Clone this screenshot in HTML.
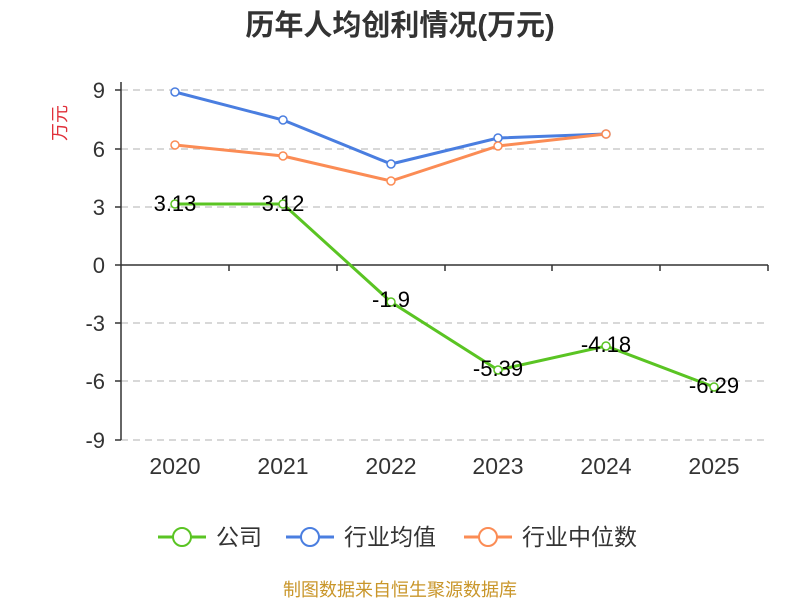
<!DOCTYPE html>
<html><head><meta charset="utf-8"><style>
body{margin:0;background:#fff;}
svg text{font-family:"Liberation Sans","Noto Sans CJK SC",sans-serif;}
</style></head><body>
<svg width="800" height="600" viewBox="0 0 800 600" xmlns="http://www.w3.org/2000/svg">
<text x="400" y="35" text-anchor="middle" font-size="29" font-weight="bold" fill="#333">历年人均创利情况(万元)</text>
<text x="66" y="123" font-size="18" fill="#e0303a" transform="rotate(-90 66 123)" text-anchor="middle">万元</text>
<g stroke="#ccc" stroke-width="1.5" stroke-dasharray="7,5">
<line x1="121" y1="90" x2="768" y2="90"/><line x1="121" y1="149" x2="768" y2="149"/>
<line x1="121" y1="207" x2="768" y2="207"/><line x1="121" y1="323" x2="768" y2="323"/>
<line x1="121" y1="381" x2="768" y2="381"/><line x1="121" y1="440" x2="768" y2="440"/>
</g>
<g stroke="#333" stroke-width="1.5">
<line x1="121" y1="82" x2="121" y2="440"/>
<line x1="121" y1="265" x2="768" y2="265"/>
<line x1="115" y1="90" x2="121" y2="90"/><line x1="115" y1="149" x2="121" y2="149"/>
<line x1="115" y1="207" x2="121" y2="207"/><line x1="115" y1="265" x2="121" y2="265"/>
<line x1="115" y1="323" x2="121" y2="323"/><line x1="115" y1="381" x2="121" y2="381"/>
<line x1="115" y1="440" x2="121" y2="440"/>
<line x1="229" y1="265" x2="229" y2="271"/><line x1="337" y1="265" x2="337" y2="271"/>
<line x1="445" y1="265" x2="445" y2="271"/><line x1="552" y1="265" x2="552" y2="271"/>
<line x1="660" y1="265" x2="660" y2="271"/><line x1="768" y1="265" x2="768" y2="271"/>
</g>
<g font-size="22" fill="#333" text-anchor="end">
<text x="105" y="98">9</text><text x="105" y="157">6</text><text x="105" y="215">3</text>
<text x="105" y="273">0</text><text x="105" y="331">-3</text><text x="105" y="389">-6</text><text x="105" y="448">-9</text>
</g>
<g font-size="23" fill="#333" text-anchor="middle">
<text x="175" y="474">2020</text><text x="283" y="474">2021</text><text x="391" y="474">2022</text>
<text x="498" y="474">2023</text><text x="606" y="474">2024</text><text x="714" y="474">2025</text>
</g>
<polyline fill="none" stroke="#4a7ee0" stroke-width="3" points="175,92 283,120 391,164 498,138 606,134"/>
<polyline fill="none" stroke="#fb8c55" stroke-width="3" points="175,145 283,156 391,181 498,146 606,134"/>
<polyline fill="none" stroke="#5ac423" stroke-width="3" points="175,204 283,204 391,302 498,370 606,346 714,387"/>
<g fill="#fff" stroke-width="1.5">
<g stroke="#4a7ee0"><circle cx="175" cy="92" r="4"/><circle cx="283" cy="120" r="4"/><circle cx="391" cy="164" r="4"/><circle cx="498" cy="138" r="4"/><circle cx="606" cy="134" r="4"/></g>
<g stroke="#fb8c55"><circle cx="175" cy="145" r="4"/><circle cx="283" cy="156" r="4"/><circle cx="391" cy="181" r="4"/><circle cx="498" cy="146" r="4"/><circle cx="606" cy="134" r="4"/></g>
<g stroke="#5ac423"><circle cx="175" cy="204" r="4"/><circle cx="283" cy="204" r="4"/><circle cx="391" cy="302" r="4"/><circle cx="498" cy="370" r="4"/><circle cx="606" cy="346" r="4"/><circle cx="714" cy="387" r="4"/></g>
</g>
<g font-size="22" fill="#000" text-anchor="middle">
<text x="175" y="211">3.13</text><text x="283" y="211">3.12</text><text x="391" y="307">-1.9</text>
<text x="498" y="376">-5.39</text><text x="606" y="352">-4.18</text><text x="714" y="393">-6.29</text>
</g>
<g font-size="23" fill="#333">
<line x1="158" y1="537" x2="206" y2="537" stroke="#5ac423" stroke-width="3"/><circle cx="182" cy="537" r="9" fill="#fff" stroke="#5ac423" stroke-width="2"/>
<text x="216" y="545">公司</text>
<line x1="286" y1="537" x2="334" y2="537" stroke="#4a7ee0" stroke-width="3"/><circle cx="310" cy="537" r="9" fill="#fff" stroke="#4a7ee0" stroke-width="2"/>
<text x="344" y="545">行业均值</text>
<line x1="464" y1="537" x2="512" y2="537" stroke="#fb8c55" stroke-width="3"/><circle cx="488" cy="537" r="9" fill="#fff" stroke="#fb8c55" stroke-width="2"/>
<text x="522" y="545">行业中位数</text>
</g>
<text x="400" y="596" text-anchor="middle" font-size="18" fill="#c9962a">制图数据来自恒生聚源数据库</text>
</svg>
</body></html>
